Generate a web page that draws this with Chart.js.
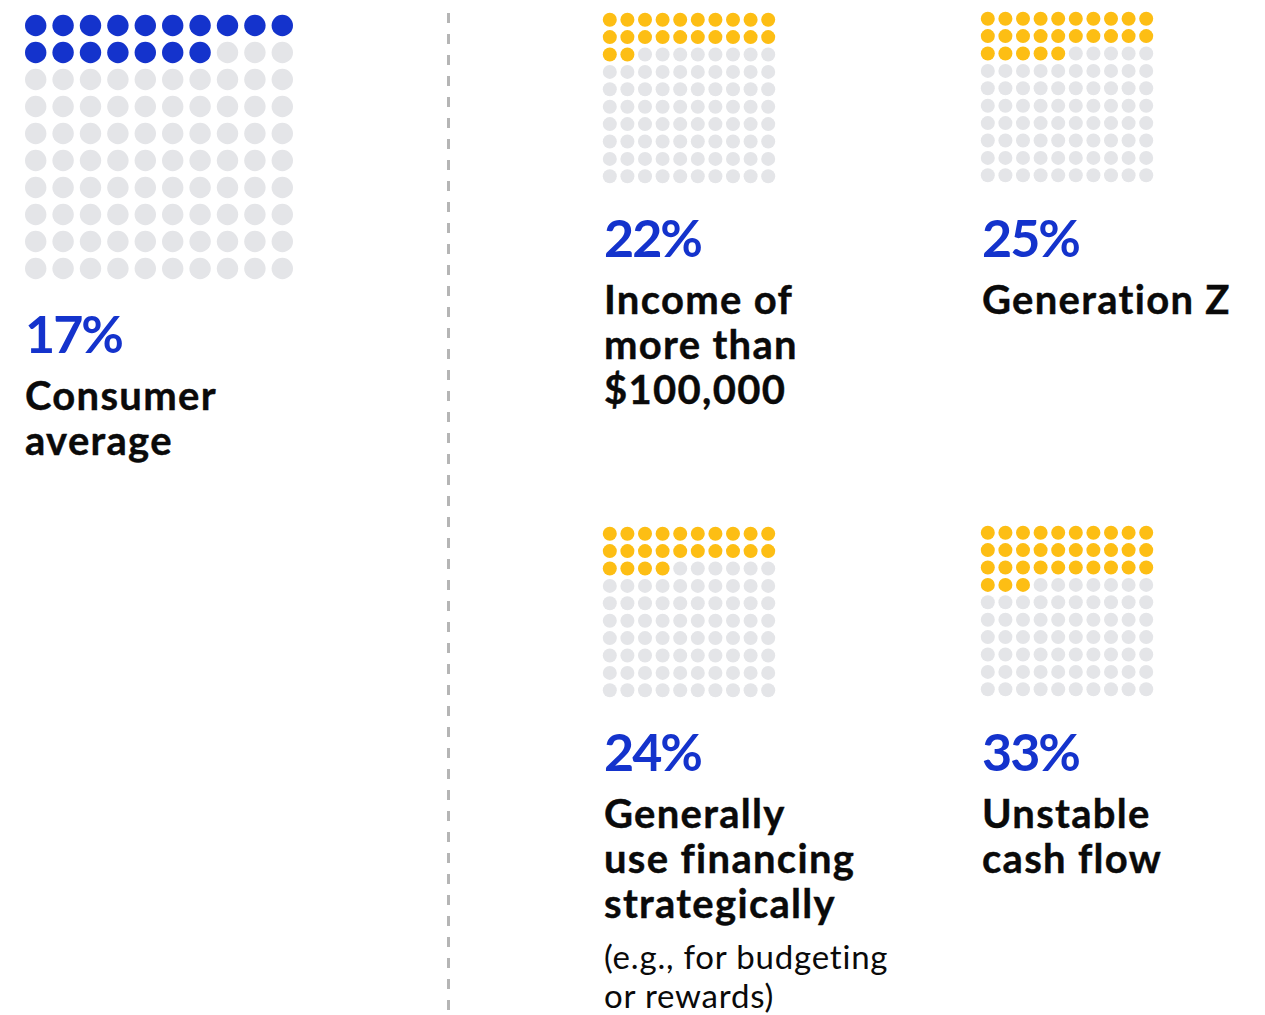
<!DOCTYPE html>
<html>
<head>
<meta charset="utf-8">
<script src="https://cdn.jsdelivr.net/npm/chart.js@4"></script>
<style>
  html, body { margin: 0; padding: 0; background: #fff; }
  body { width: 1265px; height: 1015px; position: relative; overflow: hidden; font-family: Lato, "Open Sans", sans-serif; }
  canvas { position: absolute; }
  .pct { position: absolute; font-size: 52px; line-height: 52px; font-weight: 700; color: #1433cc; letter-spacing: -2px; }
  .lbl { position: absolute; font-size: 40px; line-height: 45px; font-weight: 700; color: #0a0a0a; letter-spacing: 1.3px; -webkit-text-stroke: 0.4px #0a0a0a; }
  .note { position: absolute; font-size: 33px; line-height: 39px; font-weight: 400; color: #0a0a0a; letter-spacing: 0.8px; }
  .divider { position: absolute; left: 447px; top: 13px; width: 3px; height: 1020px;
    background: repeating-linear-gradient(to bottom, #b5b5b5 0 10px, transparent 10px 21px); }
</style>
</head>
<body>
<div class="divider"></div>
<script>
// ===== DATA =====
const groups = ["Consumer average", "Income of more than $100,000", "Generation Z", "Generally use financing strategically", "Unstable cash flow"];
const shares = [17, 22, 25, 24, 33];
const labelLines = [
  ["Consumer", "average"],
  ["Income of", "more than", "$100,000"],
  ["Generation Z"],
  ["Generally", "use financing", "strategically"],
  ["Unstable", "cash flow"]
];
const notes = ["", "", "", "(e.g., for budgeting|or rewards)", ""];

// ===== LAYOUT (panel boxes) =====
const panels = [
  { left: 22, top: 12, w: 274, h: 270, r: 10.7, color: "#1433cc", textX: 25, pctTop: 307 },
  { left: 601, top: 10.5, w: 176, h: 174, r: 7, color: "#fdbe14", textX: 604, pctTop: 211 },
  { left: 979, top: 9.5, w: 176, h: 174, r: 7, color: "#fdbe14", textX: 982, pctTop: 211 },
  { left: 601, top: 525, w: 176, h: 174, r: 7, color: "#fdbe14", textX: 604, pctTop: 725 },
  { left: 979, top: 524, w: 176, h: 174, r: 7, color: "#fdbe14", textX: 982, pctTop: 725 }
];
const EMPTY = "#e4e5e8";

// ===== WAFFLE =====
function waffle(idx) {
  const p = panels[idx];
  const canvas = document.createElement("canvas");
  canvas.width = p.w; canvas.height = p.h;
  canvas.style.left = p.left + "px"; canvas.style.top = p.top + "px";
  document.body.appendChild(canvas);

  const pts = [], colors = [];
  for (let i = 0; i < 100; i++) {
    pts.push({ x: i % 10, y: Math.floor(i / 10) });
    colors.push(i < shares[idx] ? p.color : EMPTY);
  }

  new Chart(canvas, {
    type: "scatter",
    data: {
      datasets: [{
        label: groups[idx],
        data: pts,
        pointRadius: p.r,
        pointHoverRadius: p.r,
        pointBorderWidth: 0,
        pointBackgroundColor: colors,
        clip: false
      }]
    },
    options: {
      responsive: false,
      animation: false,
      events: [],
      layout: { padding: 0, autoPadding: false },
      plugins: { legend: { display: false }, tooltip: { enabled: false } },
      scales: {
        x: { type: "linear", min: -0.5, max: 9.5, display: false },
        y: { type: "linear", min: -0.5, max: 9.5, reverse: true, display: false }
      }
    }
  });

  // text block
  const pct = document.createElement("div");
  pct.className = "pct";
  pct.style.left = p.textX + "px"; pct.style.top = p.pctTop + "px";
  pct.textContent = shares[idx] + "%";
  document.body.appendChild(pct);

  const lbl = document.createElement("div");
  lbl.className = "lbl";
  lbl.style.left = p.textX + "px"; lbl.style.top = (p.pctTop + 66) + "px";
  lbl.innerHTML = labelLines[idx].join("<br>");
  document.body.appendChild(lbl);

  if (notes[idx]) {
    const n = document.createElement("div");
    n.className = "note";
    n.style.left = p.textX + "px";
    n.style.top = (p.pctTop + 66 + labelLines[idx].length * 45 + 11) + "px";
    n.innerHTML = notes[idx].split("|").join("<br>");
    document.body.appendChild(n);
  }
}

groups.forEach((g, i) => waffle(i));
</script>
</body>
</html>
